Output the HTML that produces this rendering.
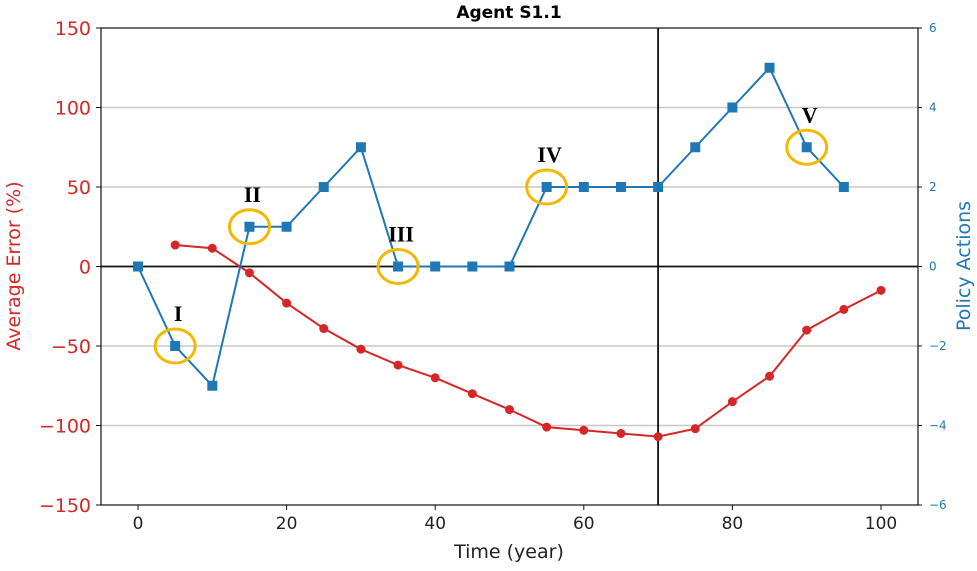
<!DOCTYPE html>
<html><head><meta charset="utf-8"><style>
body{margin:0;background:#fff;}
svg text{font-family:"DejaVu Sans","Liberation Sans",sans-serif;}
</style></head><body>
<svg id="chart" width="977" height="566" xmlns="http://www.w3.org/2000/svg"></svg>
<script>
const years = [5,10,15,20,25,30,35,40,45,50,55,60,65,70,75,80,85,90,95,100];
const errorValues = [13.5,11.5,-4,-23,-39,-52,-62,-70,-80,-90,-101,-103,-105,-107,-102,-85,-69,-40,-27,-15];
const actionYears = [0,5,10,15,20,25,30,35,40,45,50,55,60,65,70,75,80,85,90,95];
const actionValues = [0,-2,-3,1,1,2,3,0,0,0,0,2,2,2,2,3,4,5,3,2];
const xTicks = [0,20,40,60,80,100];
const leftTicks = [150,100,50,0,-50,-100,-150];
const leftTickLabels = ["150","100","50","0","\u221250","\u2212100","\u2212150"];
const rightTicks = [6,4,2,0,-2,-4,-6];
const rightTickLabels = ["6","4","2","0","\u22122","\u22124","\u22126"];
const markers = [{x:5,y:-2,label:"I"},{x:15,y:1,label:"II"},{x:35,y:0,label:"III"},{x:55,y:2,label:"IV"},{x:90,y:3,label:"V"}];

const L=101,R=918,T=28,B=505;
const xs=v=>138+(v-0)*(881-138)/100;
const yl=v=>T+(150-v)*(B-T)/300;
const yr=v=>T+(6-v)*(B-T)/12;
const svg=document.getElementById('chart');
const NS='http://www.w3.org/2000/svg';
function el(tag,attrs,parent){const e=document.createElementNS(NS,tag);for(const k in attrs)e.setAttribute(k,attrs[k]);(parent||svg).appendChild(e);return e;}

// grid
leftTicks.forEach(v=>{if(v===150||v===-150||v===0)return;
 const g=el('line',{x1:L,x2:R,y1:yl(v),y2:yl(v),stroke:'#c8c8c8','stroke-width':1.5});
 
 });
// zero line, vertical line
const z=el('line',{x1:L,x2:R,y1:yl(0),y2:yl(0),stroke:'#111','stroke-width':1.8});


const vl=el('line',{x1:xs(70),x2:xs(70),y1:T,y2:B,stroke:'#111','stroke-width':1.8});


// frame
const fr=el('rect',{x:L,y:T,width:R-L,height:B-T,fill:'none',stroke:'#111','stroke-width':1.2});


// x ticks
xTicks.forEach(v=>{el('line',{x1:xs(v),x2:xs(v),y1:B,y2:B+5,stroke:'#111'});
 const t=el('text',{x:xs(v),y:B+24,'text-anchor':'middle','font-size':17,fill:'#222'});t.textContent=v;
 
 });
leftTicks.forEach((v,i)=>{el('line',{x1:L-5,x2:L,y1:yl(v),y2:yl(v),stroke:'#111'});
 const t=el('text',{x:L-10,y:yl(v)+7,'text-anchor':'end','font-size':19,fill:'#d62728'});t.textContent=leftTickLabels[i];
 
 });
rightTicks.forEach((v,i)=>{el('line',{x1:R,x2:R+4,y1:yr(v),y2:yr(v),stroke:'#111'});
 const t=el('text',{x:R+11,y:yr(v)+4,'font-size':12,fill:'#1f77b4'});t.textContent=rightTickLabels[i];
 
 });
// titles
let t=el('text',{x:509,y:18,'text-anchor':'middle','font-size':17,'font-weight':'bold',fill:'#000'});t.textContent='Agent S1.1';


t=el('text',{x:509,y:558,'text-anchor':'middle','font-size':19,fill:'#222'});t.textContent='Time (year)';


t=el('text',{x:0,y:0,'text-anchor':'middle','font-size':19,fill:'#d62728',transform:'translate(20,266) rotate(-90)'});t.textContent='Average Error (%)';


t=el('text',{x:0,y:0,'text-anchor':'middle','font-size':19,fill:'#1f77b4',transform:'translate(970,266) rotate(-90)'});t.textContent='Policy Actions';


// red series
const rp=el('polyline',{points:years.map((x,i)=>xs(x)+','+yl(errorValues[i])).join(' '),fill:'none',stroke:'#d62728','stroke-width':2});


years.forEach((x,i)=>{const c=el('circle',{cx:xs(x),cy:yl(errorValues[i]),r:4.5,fill:'#d62728'});
 
 });
// blue series
const bp=el('polyline',{points:actionYears.map((x,i)=>xs(x)+','+yr(actionValues[i])).join(' '),fill:'none',stroke:'#1f77b4','stroke-width':2});


actionYears.forEach((x,i)=>{const s=el('rect',{x:xs(x)-5,y:yr(actionValues[i])-5,width:10,height:10,fill:'#1f77b4'});
 
 });
// markers
markers.forEach(m=>{const c=el('ellipse',{cx:xs(m.x),cy:yr(m.y),rx:20,ry:17,fill:'none',stroke:'#f5b800','stroke-width':3});
 
 
 const tx=el('text',{x:xs(m.x)+3,y:yr(m.y)-25,'text-anchor':'middle','font-size':22,'font-weight':'bold',fill:'#000',style:'font-family:"Liberation Serif",serif'});
 tx.textContent=m.label;
 
 });
</script>
</body></html>
